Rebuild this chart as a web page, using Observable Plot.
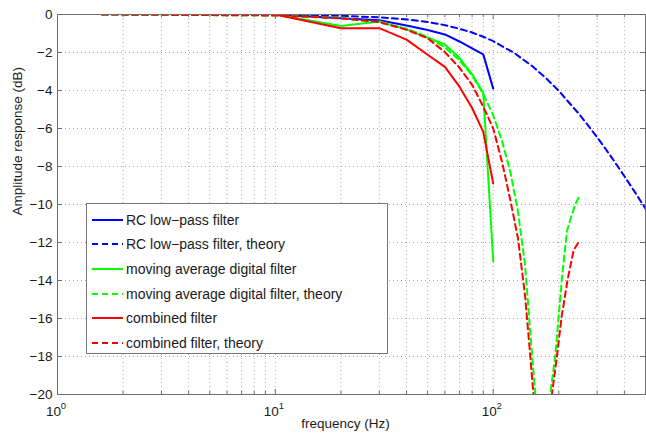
<!DOCTYPE html>
<html>
<head>
<meta charset="utf-8">
<script src="https://cdn.jsdelivr.net/npm/d3@7"></script>
<script src="https://cdn.jsdelivr.net/npm/@observablehq/plot@0.6"></script>
<style>
  body { margin: 0; background: #fff; }
  #wrap { position: relative; width: 646px; height: 437px; font-family: "Liberation Sans", Arial, sans-serif; }
  #legend { position: absolute; left: 86px; top: 203px; width: 302px; height: 151px; border: 1px solid #7a7a7a; background: #fff; box-sizing: border-box; }
  .row { position: absolute; left: 0; height: 20px; display: flex; align-items: center; font-size: 14px; color: #1a1a1a; white-space: nowrap; }
  .row svg { margin-left: 5px; margin-right: 3px; }
</style>
</head>
<body>
<div id="wrap"></div>
<script>
// measured response (solid lines)
const measFreq = [10, 20, 30, 40, 50, 60, 70, 80, 90, 100];
const rcMeasured = [0, -0.2, -0.3, -0.58, -0.82, -1.05, -1.42, -1.78, -2.1, -3.9];
const maMeasured = [0, -0.6, -0.37, -0.78, -1.22, -1.58, -2.28, -3.15, -4.12, -13.0];
const combMeasured = [0, -0.72, -0.72, -1.32, -2.12, -2.76, -3.8, -4.92, -6.18, -8.9];

// theory curves (dashed lines)
const rcTheoryFreq = [1.6, 5, 10, 20, 30, 40, 50, 60, 70, 80, 90, 100, 125, 150, 175, 200, 250, 300, 350, 400, 450, 500];
const rcTheory = [0, 0, -0.02, -0.07, -0.15, -0.26, -0.40, -0.56, -0.75, -0.95, -1.17, -1.40, -2.03, -2.69, -3.36, -4.02, -5.29, -6.46, -7.53, -8.51, -9.40, -10.22];
const maTheoryFreq = [1.6, 10, 20, 30, 40, 50, 60, 70, 80, 90, 100, 110, 120, 130, 140, 150, 156, 162, 167, 173, 182.5, 192.5, 200, 207, 218, 226, 238, 250];
const maTheory = [0, -0.05, -0.18, -0.42, -0.75, -1.18, -1.73, -2.41, -3.21, -4.19, -5.3, -6.7, -8.3, -10.4, -13.2, -17.6, -20, -25, -40, -25, -20, -18, -15.8, -13.8, -11.4, -10.8, -10.0, -9.5];
const combTheoryFreq = [1.6, 10, 20, 30, 40, 50, 60, 70, 80, 90, 100, 110, 120, 130, 140, 148, 153, 160, 168, 178, 186, 196, 206, 220, 234, 246];
const combTheory = [0, -0.05, -0.2, -0.4, -0.8, -1.25, -1.98, -2.8, -3.7, -4.85, -6.0, -7.8, -9.8, -11.8, -14.8, -18.0, -20, -25, -40, -25, -20, -18, -15.9, -13.9, -12.4, -12.0];

// series / legend
const seriesLabels = [
  "RC low\u2212pass filter",
  "RC low\u2212pass filter, theory",
  "moving average digital filter",
  "moving average digital filter, theory",
  "combined filter",
  "combined filter, theory"
];
const seriesColors = ["#0000ff", "#0000ff", "#00ff00", "#00ff00", "#ff0000", "#ff0000"];
const seriesDashed = [false, true, false, true, false, true];

// axes
const yTicks = [0, -2, -4, -6, -8, -10, -12, -14, -16, -18, -20];
const xMajor = [1, 10, 100];
const xTickBase = ["10", "10", "10"];
const xTickExp = ["0", "1", "2"];
const xMinor = [2, 3, 4, 5, 6, 7, 8, 9, 20, 30, 40, 50, 60, 70, 80, 90, 200, 300, 400, 500];
const xLabel = "frequency (Hz)";
const yLabel = "Amplitude response (dB)";

const seriesData = [
  [measFreq, rcMeasured],
  [rcTheoryFreq, rcTheory],
  [measFreq, maMeasured],
  [maTheoryFreq, maTheory],
  [measFreq, combMeasured],
  [combTheoryFreq, combTheory]
];

const lineMarks = seriesData.map(([fs, vs], i) =>
  Plot.line(fs.map((f, j) => ({f, v: vs[j]})), {
    x: "f", y: "v",
    stroke: seriesColors[i],
    strokeWidth: 2,
    strokeDasharray: seriesDashed[i] ? "6,4" : null,
    clip: true
  })
);

const gridColor = "#a8a8a8";
const fmt = d => d === 0 ? "0" : "\u2212" + Math.abs(d);

const chart = Plot.plot({
  width: 646, height: 437,
  marginLeft: 57, marginRight: 1, marginTop: 14, marginBottom: 43,
  x: {type: "log", domain: [1, 500], axis: null},
  y: {domain: [-20, 0], axis: null},
  style: {fontFamily: "Liberation Sans, Arial, sans-serif", fontSize: "13px", background: "white", color: "#1a1a1a"},
  marks: [
    Plot.ruleX(xMinor.concat(xMajor.slice(1)), {x: d => d, stroke: gridColor, strokeDasharray: "1,3"}),
    Plot.ruleY(yTicks.slice(1, -1), {y: d => d, stroke: gridColor, strokeDasharray: "1,3"}),
    ...lineMarks,
    Plot.frame({stroke: "#6e6e6e"}),
    // inward ticks
    Plot.ruleX(xMajor, {x: d => d, insetTop: 375, stroke: "#6e6e6e"}),
    Plot.ruleX(xMajor, {x: d => d, insetBottom: 375, stroke: "#6e6e6e"}),
    Plot.ruleX(xMinor, {x: d => d, insetTop: 377, stroke: "#6e6e6e"}),
    Plot.ruleX(xMinor, {x: d => d, insetBottom: 377, stroke: "#6e6e6e"}),
    Plot.ruleY(yTicks, {y: d => d, insetRight: 583, stroke: "#6e6e6e"}),
    Plot.ruleY(yTicks, {y: d => d, insetLeft: 583, stroke: "#6e6e6e"}),
    // tick labels
    Plot.text(yTicks, {x: 1, y: d => d, text: fmt, textAnchor: "end", dx: -5, fontSize: 13.5}),
    Plot.text(xMajor, {x: d => d, y: -20, text: (d, i) => xTickBase[i], dx: -4, dy: 17, fontSize: 13.5}),
    Plot.text(xMajor, {x: d => d, y: -20, text: (d, i) => xTickExp[i], dx: 6, dy: 11, fontSize: 9.5}),
    // axis labels
    Plot.text([xLabel], {frameAnchor: "bottom", text: d => d, dx: -6, dy: 33, fontSize: 13.5}),
    Plot.text([yLabel], {frameAnchor: "left", text: d => d, rotate: -90, dx: -40, dy: 11, fontSize: 13.5})
  ]
});

const wrap = document.getElementById("wrap");
wrap.appendChild(chart);

// legend
const legend = document.createElement("div");
legend.id = "legend";
seriesLabels.forEach((label, i) => {
  const row = document.createElement("div");
  row.className = "row";
  row.style.top = (5.5 + i * 24.7) + "px";
  const ns = "http://www.w3.org/2000/svg";
  const svg = document.createElementNS(ns, "svg");
  svg.setAttribute("width", "31");
  svg.setAttribute("height", "6");
  const ln = document.createElementNS(ns, "line");
  ln.setAttribute("x1", "0"); ln.setAttribute("x2", "31");
  ln.setAttribute("y1", "3"); ln.setAttribute("y2", "3");
  ln.setAttribute("stroke", seriesColors[i]);
  ln.setAttribute("stroke-width", "2");
  if (seriesDashed[i]) ln.setAttribute("stroke-dasharray", "6,4");
  svg.appendChild(ln);
  row.appendChild(svg);
  const span = document.createElement("span");
  span.textContent = label;
  row.appendChild(span);
  legend.appendChild(row);
});
wrap.appendChild(legend);
</script>
</body>
</html>
